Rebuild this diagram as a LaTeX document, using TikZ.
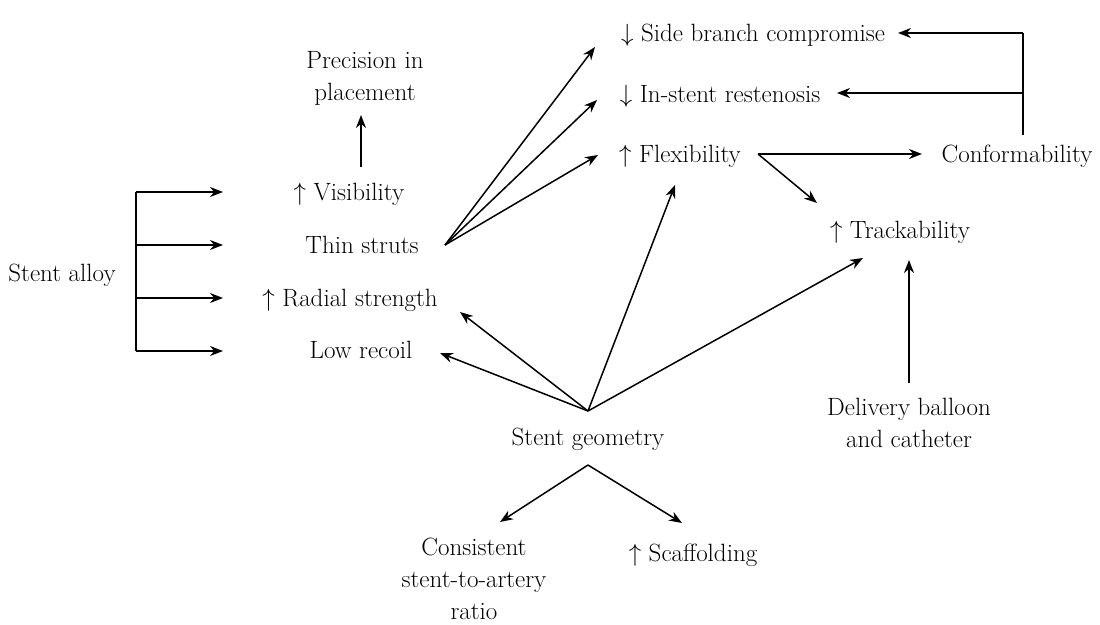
\documentclass[tikz,border=0pt]{standalone}
\usepackage{fontspec}
\usetikzlibrary{arrows.meta}
\begin{document}
\begin{tikzpicture}[x=1pt,y=-1pt,
  lbl/.style={font=\fontsize{25}{32}\selectfont, inner sep=0pt, align=center},
  arr/.style={line width=1.5pt, -{Stealth[length=13pt,width=10pt]}},
  ln/.style={line width=1.5pt}]
\useasboundingbox (0,0) rectangle (1100,624);

% nodes
\node[lbl, anchor=base] (alloy)   at (62,281)  {Stent alloy};
\node[lbl, anchor=base] (vis)     at (349,200) {$\uparrow$ Visibility};
\node[lbl, anchor=base] (thin)    at (362,253) {Thin struts};
\node[lbl, anchor=base] (radial)  at (350,306) {$\uparrow$ Radial strength};
\node[lbl, anchor=base] (recoil)  at (361,358) {Low recoil};
\node[lbl]              (prec)    at (365,78)  {Precision in\\placement};
\node[lbl, anchor=base] (side)    at (753,41)  {$\downarrow$ Side branch compromise};
\node[lbl, anchor=base] (instent) at (720,102) {$\downarrow$ In-stent restenosis};
\node[lbl, anchor=base] (flex)    at (680,162) {$\uparrow$ Flexibility};
\node[lbl, anchor=base] (conf)    at (1017,162) {Conformability};
\node[lbl, anchor=base] (track)   at (900,238) {$\uparrow$ Trackability};
\node[lbl]              (deliv)   at (909,423) {Delivery balloon\\and catheter};
\node[lbl, anchor=base] (geom)    at (588,445) {Stent geometry};
\node[lbl]              (cons)    at (474,579) {Consistent\\stent-to-artery\\ratio};
\node[lbl, anchor=base] (scaf)    at (693,561) {$\uparrow$ Scaffolding};

% connector points
\coordinate (br1) at (136,192);
\coordinate (br2) at (136,245);
\coordinate (br3) at (136,298);
\coordinate (br4) at (136,351);
\coordinate (thinhub) at (445,245);
\coordinate (flexhub) at (758,154);
\coordinate (geomhub) at (588,411);
\coordinate (geomlow) at (588,465);
\coordinate (conftop) at (1023,33);
\coordinate (confmid) at (1023,93);
\coordinate (confbot) at (1023,135);

% Stent alloy bracket
\draw[ln] (br1) -- (br4);
\draw[arr] (br1) -- (223,192);
\draw[arr] (br2) -- (223,245);
\draw[arr] (br3) -- (223,298);
\draw[arr] (br4) -- (223,351);

% Visibility -> Precision
\draw[arr] (361,167) -- (361,115);

% Thin struts fan
\draw[arr] (thinhub) -- (595,47);
\draw[arr] (thinhub) -- (597,100);
\draw[arr] (thinhub) -- (598,155);

% Conformability
\draw[ln] (confbot) -- (conftop);
\draw[arr] (conftop) -- (898,33);
\draw[arr] (confmid) -- (837,93);

% Flexibility
\draw[arr] (flexhub) -- (922,154);
\draw[arr] (flexhub) -- (817,203);

% Stent geometry fan
\draw[arr] (geomhub) -- (460,312);
\draw[arr] (geomhub) -- (440,353);
\draw[arr] (geomhub) -- (675,185);
\draw[arr] (geomhub) -- (863,258);

% Delivery balloon
\draw[arr] (909,383) -- (909,260);

% Stent geometry lower
\draw[arr] (geomlow) -- (500,522);
\draw[arr] (geomlow) -- (682,523);
\end{tikzpicture}
\end{document}
